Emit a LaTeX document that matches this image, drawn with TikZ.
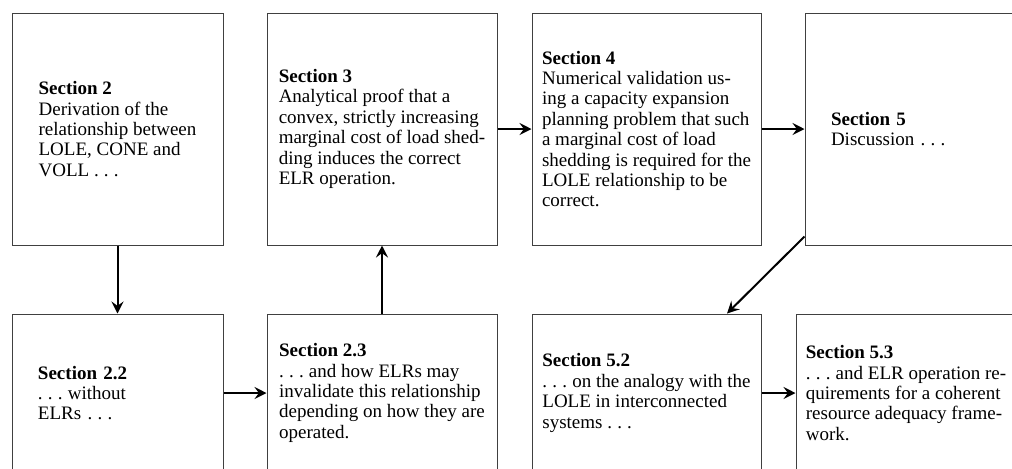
\documentclass[tikz,border=0pt]{standalone}
\usepackage{fontspec}
\setmainfont{Liberation Serif}
\usetikzlibrary{arrows.meta,calc}
\newcommand\eld{.\kern2.6pt.\kern2.6pt.\kern2.6pt}
\begin{document}
\begin{tikzpicture}[x=0.5pt,y=-0.5pt,
  box/.style={draw=black!75,line width=0.5pt,inner sep=0pt,align=left,
    font=\fontsize{9.5}{10.2}\selectfont},
  arr/.style={-{Stealth[length=6pt,width=6pt,inset=2.2pt]},line width=1pt}]
\useasboundingbox (0,0) rectangle (1012,468);
\clip (0,0) rectangle (1012,468);
% top row
\node[box,minimum width=105.5pt,minimum height=116pt] (s2) at (117.5,129)
  {\textbf{Section 2}\\Derivation of the\\relationship between\\LOLE, CONE and\\VOLL \eld};
\node[box,minimum width=115pt,minimum height=116pt] (s3) at (382,129)
  {\textbf{Section 3}\\Analytical proof that a\\convex, strictly increasing\\marginal cost of load shed-\\ding induces the correct\\ELR operation.};
\node[box,minimum width=114.5pt,minimum height=116pt] (s4) at (646.5,129)
  {\textbf{Section 4}\\Numerical validation us-\\ing a capacity expansion\\planning problem that such\\a marginal cost of load\\shedding is required for the\\LOLE relationship to be\\correct.};
\node[box,minimum width=131.5pt,minimum height=116pt,text width=105.5pt] (s5) at (936.5,129)
  {\textbf{Section 5}\\Discussion \eld};
% bottom row
\node[box,minimum width=105.5pt,minimum height=79pt,text width=79.5pt] (s22) at (117.5,393)
  {\textbf{Section 2.2}\\\eld{}without\\ELRs \eld};
\node[box,minimum width=115pt,minimum height=79pt] (s23) at (382,393)
  {\textbf{Section 2.3}\\\eld{}and how ELRs may\\invalidate this relationship\\depending on how they are\\operated.};
\node[box,minimum width=114.5pt,minimum height=79pt] (s52) at (646.5,393)
  {\textbf{Section 5.2}\\\eld{}on the analogy with the\\LOLE in interconnected\\systems \eld};
\node[box,minimum width=110pt,minimum height=79pt] (s53) at (906,393)
  {\textbf{Section 5.3}\\\eld{}and ELR operation re-\\quirements for a coherent\\resource adequacy frame-\\work.};
% connectors
\draw[arr] (s2.south) -- (s22.north);
\draw[arr] (s22.east) -- (s23.west);
\draw[arr] (s23.north) -- (s3.south);
\draw[arr] (s3.east) -- (s4.west);
\draw[arr] (s4.east) -- (s5.west);
\draw[arr] ($(s5.south west)+(0,-9)$) -- ($(s52.north)+(80.5,0)$);
\draw[arr] (s52.east) -- (s53.west);
\end{tikzpicture}
\end{document}
